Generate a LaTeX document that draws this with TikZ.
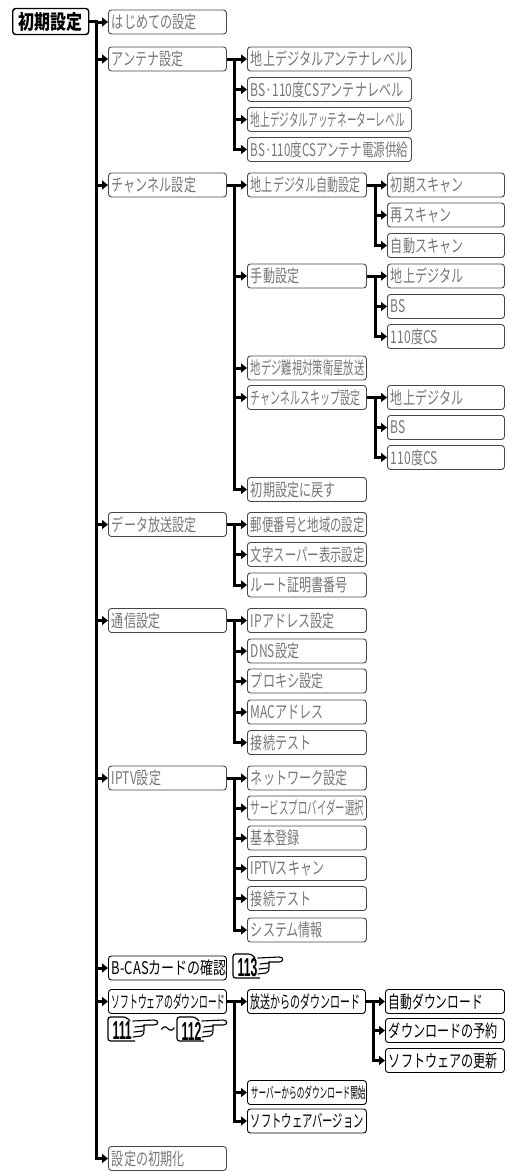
\documentclass[tikz,border=0pt]{standalone}
\usepackage{fontspec}
\newfontfamily\jpfont{Noto Sans CJK JP}
\newfontfamily\numfont[FakeStretch=0.47]{Liberation Sans}
\usetikzlibrary{arrows.meta}
\definecolor{menugray}{RGB}{118,118,118}
\definecolor{framegray}{RGB}{70,70,70}

\begin{document}
\begin{tikzpicture}[x=1pt,y=-1pt,
  item/.style={draw=framegray,rounded corners=3pt,line width=0.9pt,anchor=west,
               minimum height=24pt,inner xsep=3.5pt,inner ysep=0pt,text width=#1,
               align=left,text=menugray,
               font=\fontsize{17.5}{17.5}\jpfont\addfontfeatures{FakeStretch=0.69}},
  sqz/.style={font=\fontsize{17.5}{17.5}\jpfont\addfontfeatures{FakeStretch=#1}},
  sqzs/.style={font=\fontsize{15}{15}\jpfont\addfontfeatures{FakeStretch=#1}},
  dark/.style={draw=black,text=black},
  rootbox/.style={draw=black,rounded corners=3pt,line width=1.4pt,anchor=west,
                  minimum height=26pt,minimum width=76pt,inner sep=0pt,
                  font=\fontsize{20}{20}\jpfont\bfseries\addfontfeatures{FakeStretch=0.8}},
  conn/.style={line width=3pt,-{Triangle[length=6pt,width=9pt]}},
  refmark/.pic={
    \node[anchor=west,inner sep=0pt,font=\fontsize{26}{26}\numfont\bfseries] (-num) at (4.5,2) {#1};
    \draw[line width=1.2pt,rounded corners=2.5pt] (22,-8) -- (18,-12) -- (0,-12) -- (0,12) -- (27,12);
    \draw[line width=1.1pt,line cap=round]
      (25,-8) -- (46,-9) .. controls (51,-9) and (51,-4) .. (46,-4) -- (36,-4);
    \draw[line width=1.1pt,line cap=round] (27,-2) -- (36,-3);
    \draw[line width=1.1pt,line cap=round] (26,3) -- (35,2);
    \draw[line width=1.1pt,line cap=round] (25,8) -- (33,7) .. controls (36,6) .. (36,-4);
  }
]
\useasboundingbox (0,0) rectangle (508,1171);

% root and first level
\node[rootbox] (root) at (12,21.5) {初期設定};
\node[item=111] (hajime)  at (108,22)     {はじめての設定};
\node[item=111] (antenna) at (108,59)     {アンテナ設定};
\node[item=111] (channel) at (108,185)    {チャンネル設定};
\node[item=111] (databc)  at (108,524.5)  {データ放送設定};
\node[item=111] (comm)    at (108,620.5)  {通信設定};
\node[item=111] (iptv)    at (108,778)    {IPTV設定};
\node[item=111,dark,sqz=0.74] (bcas) at (108,968) {\mbox{B-CASカードの確認}};
\node[item=111,dark,sqz=0.5] (softdl) at (108,1001.5) {ソフトウェアのダウンロード};
\node[item=111] (reinit)  at (108,1158.5) {設定の初期化};

% antenna
\node[item=157]          (ant1) at (247,59)    {地上デジタルアンテナレベル};
\node[item=157]          (ant2) at (247,89.5)  {BS·110度CSアンテナレベル};
\node[item=157,sqz=0.55] (ant3) at (247,119.5) {地上デジタルアッテネーターレベル};
\node[item=157,sqz=0.66] (ant4) at (247,149.5) {BS·110度CSアンテナ電源供給};

% channel
\node[item=112,sqz=0.63] (chdigi)  at (247,185)   {地上デジタル自動設定};
\node[item=112]          (chman)   at (247,276)   {手動設定};
\node[item=112,sqz=0.59] (nanshi)  at (247,368)   {地デジ難視対策衛星放送};
\node[item=112,sqz=0.57] (chskip)  at (247,397.5) {チャンネルスキップ設定};
\node[item=112]          (chreset) at (247,489.5) {初期設定に戻す};

\node[item=110] (chdigi1) at (387,185)   {初期スキャン};
\node[item=110] (chdigi2) at (387,215)   {再スキャン};
\node[item=110] (chdigi3) at (387,245.5) {自動スキャン};
\node[item=110] (chman1)  at (387,276)   {地上デジタル};
\node[item=110] (chman2)  at (387,306.5) {BS};
\node[item=110] (chman3)  at (387,336.5) {110度CS};
\node[item=110] (chskip1) at (387,397.5) {地上デジタル};
\node[item=110] (chskip2) at (387,427.5) {BS};
\node[item=110] (chskip3) at (387,457.5) {110度CS};

% data broadcast
\node[item=112,sqz=0.65] (data1) at (247,524.5) {郵便番号と地域の設定};
\node[item=112,sqz=0.65] (data2) at (247,554.5) {文字スーパー表示設定};
\node[item=112]          (data3) at (247,585)   {ルート証明書番号};

% communication
\node[item=112] (comm1) at (247,620.5) {IPアドレス設定};
\node[item=112] (comm2) at (247,651)   {DNS設定};
\node[item=112] (comm3) at (247,681)   {プロキシ設定};
\node[item=112] (comm4) at (247,712)   {MACアドレス};
\node[item=112] (comm5) at (247,742.5) {接続テスト};

% IPTV
\node[item=112]          (iptv1) at (247,778)   {ネットワーク設定};
\node[item=112,sqz=0.54] (iptv2) at (247,808)   {サービスプロバイダー選択};
\node[item=112]          (iptv3) at (247,838)   {基本登録};
\node[item=112]          (iptv4) at (247,868.5) {IPTVスキャン};
\node[item=112]          (iptv5) at (247,898.5) {接続テスト};
\node[item=112]          (iptv6) at (247,930)   {システム情報};

% software download
\node[item=111,dark,sqz=0.57]  (bcdl)    at (247,1001.5) {放送からのダウンロード};
\node[item=112,dark,sqzs=0.51] (srvdl)   at (247,1092.5) {サーバーからのダウンロード開始};
\node[item=112,dark,sqz=0.59]  (softver) at (247,1121)   {ソフトウェアバージョン};
\node[item=112,dark,sqz=0.67]  (bcdl1) at (385,1001.5) {自動ダウンロード};
\node[item=112,dark]           (bcdl2) at (385,1030.5) {ダウンロードの予約};
\node[item=112,dark]           (bcdl3) at (385,1060.5) {ソフトウェアの更新};

% page references
\pic (ref113) at (233,966) {refmark=113};
\pic (ref111) at (108,1029) {refmark=111};
\node[inner sep=0pt,font=\fontsize{17}{17}\jpfont\addfontfeatures{FakeStretch=0.9}] (tilde) at (168,1031) {〜};
\pic (ref112) at (177,1029) {refmark=112};

% connectors
\foreach \c in {hajime,antenna,channel,databc,comm,iptv,bcas,softdl,reinit}
  \draw[conn] (root.east) -- ++(7,0) |- (\c.west);
\foreach \c in {ant1,ant2,ant3,ant4}
  \draw[conn] (antenna.east) -- ++(8,0) |- (\c.west);
\foreach \c in {chdigi,chman,nanshi,chskip,chreset}
  \draw[conn] (channel.east) -- ++(8,0) |- (\c.west);
\foreach \c in {chdigi1,chdigi2,chdigi3}
  \draw[conn] (chdigi.east) -- ++(9,0) |- (\c.west);
\foreach \c in {chman1,chman2,chman3}
  \draw[conn] (chman.east) -- ++(9,0) |- (\c.west);
\foreach \c in {chskip1,chskip2,chskip3}
  \draw[conn] (chskip.east) -- ++(9,0) |- (\c.west);
\foreach \c in {data1,data2,data3}
  \draw[conn] (databc.east) -- ++(8,0) |- (\c.west);
\foreach \c in {comm1,comm2,comm3,comm4,comm5}
  \draw[conn] (comm.east) -- ++(8,0) |- (\c.west);
\foreach \c in {iptv1,iptv2,iptv3,iptv4,iptv5,iptv6}
  \draw[conn] (iptv.east) -- ++(8,0) |- (\c.west);
\foreach \c in {bcdl,srvdl,softver}
  \draw[conn] (softdl.east) -- ++(8,0) |- (\c.west);
\foreach \c in {bcdl1,bcdl2,bcdl3}
  \draw[conn] (bcdl.east) -- ++(8,0) |- (\c.west);
\end{tikzpicture}
\end{document}
